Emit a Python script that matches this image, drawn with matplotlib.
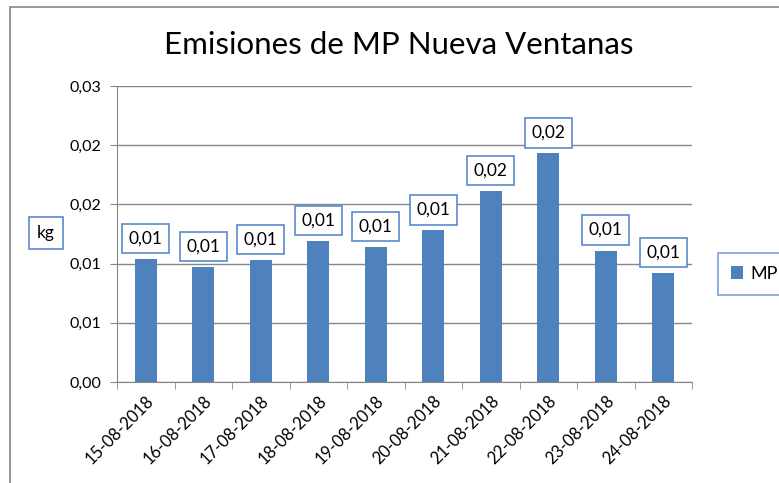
import numpy as np
import matplotlib.pyplot as plt
from matplotlib.patches import Rectangle
from matplotlib.ticker import FuncFormatter

plt.rcParams['font.family'] = ['Lato', 'DejaVu Sans']

# Datos
fechas = ['15-08-2018', '16-08-2018', '17-08-2018', '18-08-2018', '19-08-2018',
          '20-08-2018', '21-08-2018', '22-08-2018', '23-08-2018', '24-08-2018']
mp = [0.0104, 0.0097, 0.0103, 0.0119, 0.0114, 0.0128, 0.0161, 0.0193, 0.0111, 0.0092]
yticks = [0, 0.005, 0.010, 0.015, 0.020, 0.025]

azul = '#4F81BD'
gris = '#868686'


def fmt(v, pos=None):
    # redondeo tipo Excel (mitad hacia arriba), coma decimal
    return f"{v + 1e-9:.2f}".replace('.', ',')


fig = plt.figure(figsize=(7.79, 4.83), dpi=100)
fig.patches.append(Rectangle((10 / 779, -0.1), 1.2, 1.1 - 7 / 483,
                             transform=fig.transFigure, fill=False,
                             edgecolor=gris, linewidth=1.2))
ax = fig.add_axes([117 / 779, 1 - 382 / 483, (692 - 117) / 779, (382 - 86) / 483])

x = np.arange(len(fechas))
bars = ax.bar(x, mp, width=0.385, color=azul, zorder=3, label='MP')

for xi, v in zip(x, mp):
    ax.annotate(fmt(v), (xi, v), xytext=(0, 9), textcoords='offset points',
                ha='center', va='bottom', fontsize=12.5,
                bbox=dict(boxstyle='square,pad=0.38', fc='white', ec='#5A8ACB', lw=1.2),
                zorder=4)

ax.set_xlim(-0.5, len(fechas) - 0.5)
ax.set_ylim(0, 0.025)
ax.set_yticks(yticks)
ax.yaxis.set_major_formatter(FuncFormatter(fmt))
ax.set_xticks(np.arange(len(fechas) + 1) - 0.5, minor=True)
ax.set_xticks(x)
ax.set_xticklabels(fechas, rotation=45, ha='right', rotation_mode='anchor', fontsize=12)
ax.tick_params(axis='x', which='major', length=0, pad=8)
ax.tick_params(axis='x', which='minor', length=5, color=gris, direction='out')
ax.tick_params(axis='y', length=5, color=gris, labelsize=11.5, pad=6)

ax.grid(axis='y', color=gris, linewidth=1, zorder=0)
for s in ['top', 'right']:
    ax.spines[s].set_visible(False)
for s in ['left', 'bottom']:
    ax.spines[s].set_color(gris)

fig.text(399 / 779, 1 - 45 / 483, 'Emisiones de MP Nueva Ventanas',
         ha='center', va='center', fontsize=22.5)
fig.text(46 / 779, 1 - 233 / 483, 'kg', ha='center', va='center', fontsize=12.5,
         bbox=dict(boxstyle='square,pad=0.45', fc='white', ec='#5A8ACB', lw=1.2))

leg = fig.legend(handles=[bars], labels=['MP'], loc='center left',
                 bbox_to_anchor=(709 / 779, 1 - 274 / 483), fontsize=13,
                 frameon=True, fancybox=False, handlelength=0.7, handleheight=0.7,
                 handletextpad=0.4, borderpad=0.7)
leg.get_frame().set_edgecolor('#5A8ACB')
leg.get_frame().set_linewidth(1.2)

fig.savefig('out.png', dpi=100)
